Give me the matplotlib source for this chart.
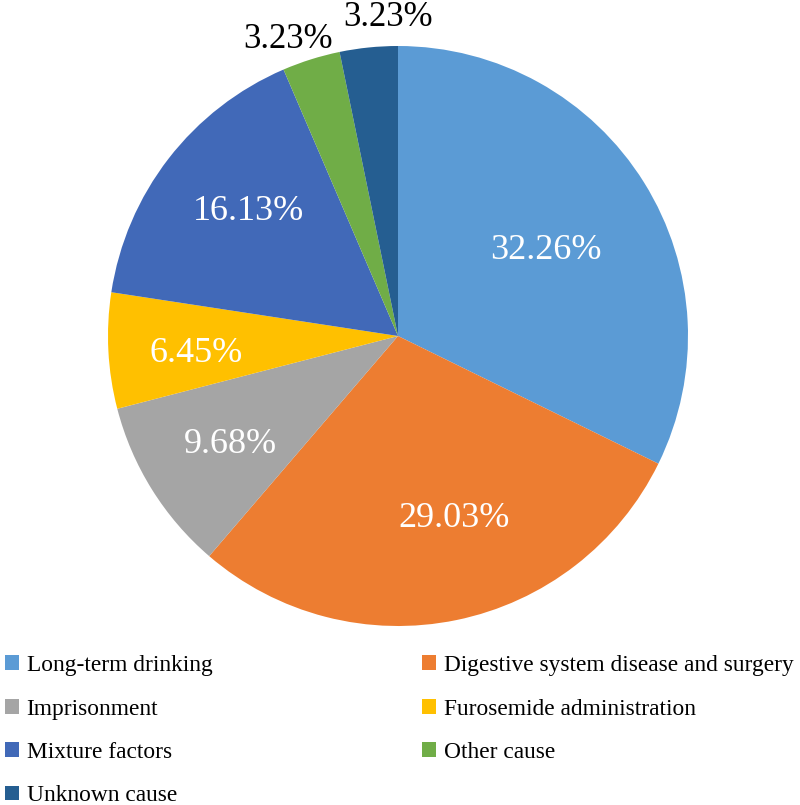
import numpy as np
import matplotlib
matplotlib.use("Agg")
import matplotlib.pyplot as plt

# data
causes = [
    "Long-term drinking",
    "Digestive system disease and surgery",
    "Imprisonment",
    "Furosemide administration",
    "Mixture factors",
    "Other cause",
    "Unknown cause",
]
shares = [32.26, 29.03, 9.68, 6.45, 16.13, 3.23, 3.23]
colors = ["#5B9BD5", "#ED7D31", "#A5A5A5", "#FFC000", "#4169B8", "#70AD47", "#255E91"]

# label placement (radius in pie units, angle tweak in degrees)
label_r = [0.59, 0.66, 0.69, 0.70, 0.67, 1.09, 1.10]
label_dtheta = [-2, 5.5, 1, 2, -2, 3, -4]
inside = [True, True, True, True, True, False, False]

plt.rcParams["font.family"] = ["Liberation Serif", "DejaVu Serif"]

fig = plt.figure(figsize=(8, 8.05), dpi=100)
ax = fig.add_axes([108 / 800, (805 - 626) / 805, 580 / 800, 580 / 805])

wedges, _ = ax.pie(
    shares,
    colors=colors,
    startangle=90,
    counterclock=False,
    radius=1,
    wedgeprops=dict(linewidth=0),
)
ax.set_xlim(-1, 1)
ax.set_ylim(-1, 1)
ax.set_aspect("auto")
ax.axis("off")

for w, val, r, dt, ins in zip(wedges, shares, label_r, label_dtheta, inside):
    theta = np.deg2rad((w.theta1 + w.theta2) / 2 + dt)
    x, y = r * np.cos(theta), r * np.sin(theta)
    ax.text(
        x, y, f"{val:.2f}%",
        ha="center", va="center",
        color="white" if ins else "black",
        fontsize=26 if ins else 25,
        clip_on=False,
    )

# legend filled row by row like the original
order = [0, 2, 4, 6, 1, 3, 5]
fig.legend(
    [wedges[i] for i in order],
    [causes[i] for i in order],
    ncol=2,
    loc="upper left",
    bbox_to_anchor=(0.0, 0.192),
    frameon=False,
    fontsize=16.8,
    handlelength=0.6,
    handleheight=0.6,
    handletextpad=0.34,
    labelspacing=0.96,
    columnspacing=9.0,
    borderaxespad=0,
    borderpad=0.2,
)

fig.savefig("out.png", dpi=100)
